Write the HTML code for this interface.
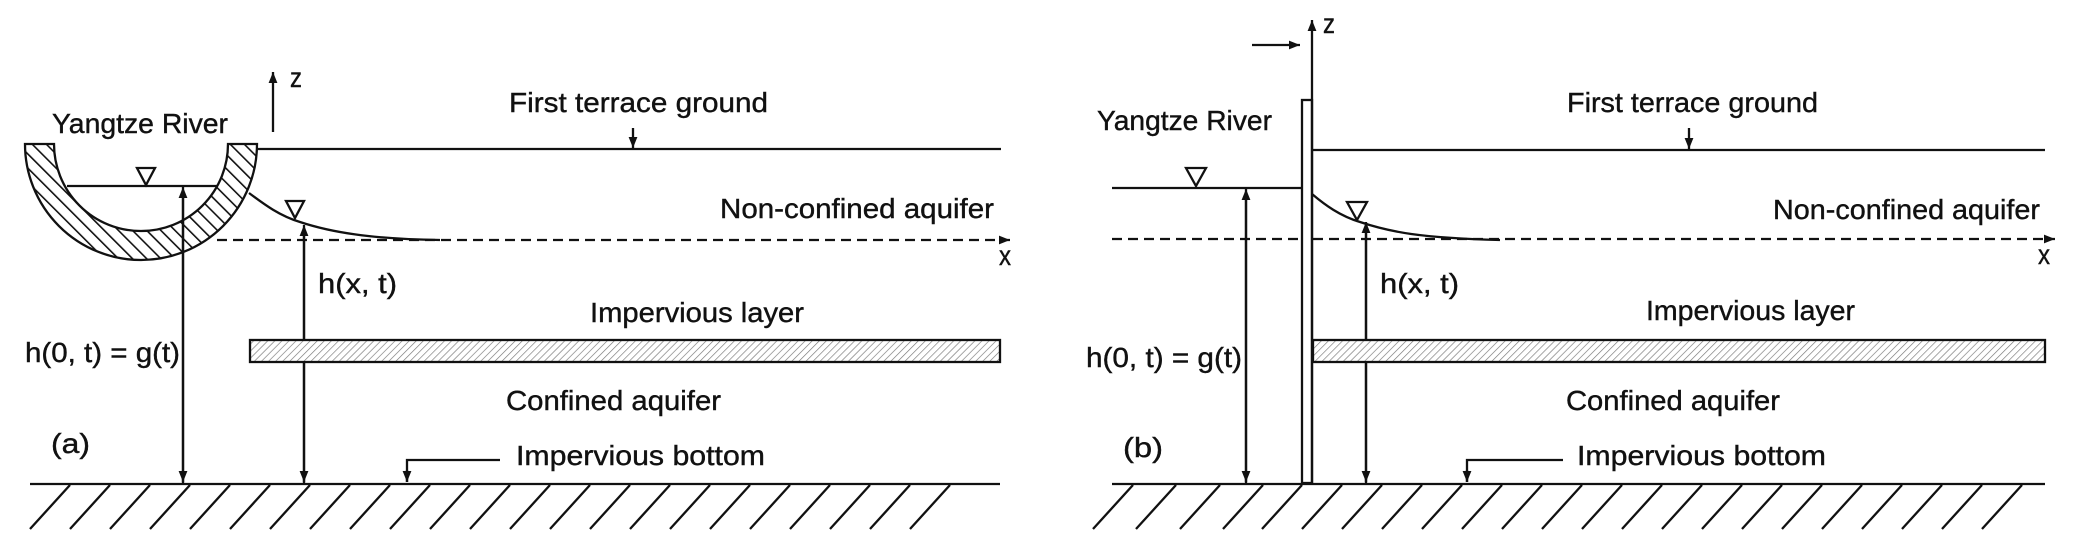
<!DOCTYPE html>
<html><head><meta charset="utf-8"><style>
html,body{margin:0;padding:0;background:#fff;}
svg{display:block;}
text{font-family:"Liberation Sans",sans-serif;font-size:28px;fill:#111;stroke:#111;stroke-width:0.4;}
</style></head><body>
<svg width="2086" height="554" viewBox="0 0 2086 554" xmlns="http://www.w3.org/2000/svg">
<defs>
<pattern id="rh" patternUnits="userSpaceOnUse" width="10" height="10" patternTransform="rotate(-45)">
<rect width="10" height="10" fill="#fff"/><line x1="0" y1="0" x2="0" y2="10" stroke="#111" stroke-width="3.2"/>
</pattern>
<pattern id="lh" patternUnits="userSpaceOnUse" width="5" height="5" patternTransform="rotate(45)">
<rect width="5" height="5" fill="#fff"/><line x1="0" y1="0" x2="0" y2="5" stroke="#777" stroke-width="1.3"/>
</pattern>
<marker id="ah" viewBox="0 0 10 10" refX="10" refY="5" markerWidth="11" markerHeight="11" markerUnits="userSpaceOnUse" orient="auto">
<path d="M0,1 L10,5 L0,9 Z" fill="#111"/></marker>
</defs>
<g stroke="#111" stroke-width="2.3" fill="none">
<!-- ===== Panel A ===== -->
<path d="M25,144 A116,116 0 0 0 257,144 L228,144 A87,87 0 0 1 54,144 Z" fill="url(#rh)" stroke="#111" stroke-width="2.3"/>
<line x1="67" y1="186" x2="218" y2="186"/>
<path d="M137,168 L155,168 L146,185 Z"/>
<line x1="257" y1="149" x2="1001" y2="149"/>
<line x1="633" y1="128" x2="633" y2="148" marker-end="url(#ah)"/>
<line x1="273" y1="132" x2="273" y2="72" marker-end="url(#ah)"/>
<path d="M249,193 C265,205 280,216 300,222 C330,232 370,239 440,240"/>
<path d="M286,201 L304,201 L295,218 Z"/>
<line x1="217" y1="240" x2="1010" y2="240" stroke-dasharray="10,6" marker-end="url(#ah)"/>
<line x1="183" y1="483" x2="183" y2="187" marker-end="url(#ah)"/>
<line x1="183" y1="190" x2="183" y2="482" marker-end="url(#ah)"/>
<line x1="304" y1="483" x2="304" y2="225" marker-end="url(#ah)"/>
<line x1="304" y1="228" x2="304" y2="482" marker-end="url(#ah)"/>
<rect x="250" y="340" width="750" height="22" fill="url(#lh)"/>
<line x1="30" y1="484" x2="1000" y2="484"/>
<path d="M500,460 L407,460 L407,482" />
<line x1="407" y1="470" x2="407" y2="482" marker-end="url(#ah)"/>
<!-- ===== Panel B ===== -->
<rect x="1302" y="100" width="10" height="383" fill="#fff"/>
<line x1="1312" y1="483" x2="1312" y2="20" marker-end="url(#ah)"/>
<line x1="1252" y1="45" x2="1300" y2="45" marker-end="url(#ah)"/>
<line x1="1312" y1="150" x2="2045" y2="150"/>
<line x1="1689" y1="128" x2="1689" y2="149" marker-end="url(#ah)"/>
<line x1="1112" y1="188" x2="1302" y2="188"/>
<path d="M1186,168 L1206,168 L1196,186 Z"/>
<path d="M1312,194 C1325,205 1340,216 1360,222 C1390,232 1420,238 1500,240"/>
<path d="M1347,202 L1367,202 L1357,220 Z"/>
<line x1="1112" y1="239" x2="1301" y2="239" stroke-dasharray="10,6"/>
<line x1="1313" y1="239" x2="2055" y2="239" stroke-dasharray="10,6" marker-end="url(#ah)"/>
<line x1="1246" y1="483" x2="1246" y2="189" marker-end="url(#ah)"/>
<line x1="1246" y1="192" x2="1246" y2="482" marker-end="url(#ah)"/>
<line x1="1366" y1="483" x2="1366" y2="222" marker-end="url(#ah)"/>
<line x1="1366" y1="225" x2="1366" y2="482" marker-end="url(#ah)"/>
<rect x="1313" y="340" width="732" height="22" fill="url(#lh)"/>
<line x1="1112" y1="484" x2="2045" y2="484"/>
<path d="M1563,460 L1467,460 L1467,482"/>
<line x1="1467" y1="470" x2="1467" y2="482" marker-end="url(#ah)"/>
</g>
<g stroke="#111" stroke-width="2.3">
<path d="M70,485 l-40,44 M110,485 l-40,44 M150,485 l-40,44 M190,485 l-40,44 M230,485 l-40,44 M270,485 l-40,44 M310,485 l-40,44 M350,485 l-40,44 M390,485 l-40,44 M430,485 l-40,44 M470,485 l-40,44 M510,485 l-40,44 M550,485 l-40,44 M590,485 l-40,44 M630,485 l-40,44 M670,485 l-40,44 M710,485 l-40,44 M750,485 l-40,44 M790,485 l-40,44 M830,485 l-40,44 M870,485 l-40,44 M910,485 l-40,44 M950,485 l-40,44"/>
<path d="M1133,485 l-40,44 M1176,485 l-40,44 M1220,485 l-40,44 M1263,485 l-40,44 M1302,485 l-40,44 M1342,485 l-40,44 M1382,485 l-40,44 M1422,485 l-40,44 M1462,485 l-40,44 M1502,485 l-40,44 M1542,485 l-40,44 M1582,485 l-40,44 M1622,485 l-40,44 M1662,485 l-40,44 M1702,485 l-40,44 M1742,485 l-40,44 M1782,485 l-40,44 M1822,485 l-40,44 M1862,485 l-40,44 M1902,485 l-40,44 M1942,485 l-40,44 M1982,485 l-40,44 M2022,485 l-40,44"/>
</g>
<!-- text A -->
<text x="290" y="87" textLength="12" lengthAdjust="spacingAndGlyphs">z</text>
<text x="52" y="133" textLength="176" lengthAdjust="spacingAndGlyphs">Yangtze River</text>
<text x="509" y="112" textLength="259" lengthAdjust="spacingAndGlyphs">First terrace ground</text>
<text x="720" y="218" textLength="274" lengthAdjust="spacingAndGlyphs">Non-confined aquifer</text>
<text x="999" y="265" textLength="12" lengthAdjust="spacingAndGlyphs">x</text>
<text x="318" y="293" textLength="79" lengthAdjust="spacingAndGlyphs">h(x, t)</text>
<text x="590" y="322" textLength="214" lengthAdjust="spacingAndGlyphs">Impervious layer</text>
<text x="25" y="362" textLength="155" lengthAdjust="spacingAndGlyphs">h(0, t) = g(t)</text>
<text x="506" y="410" textLength="215" lengthAdjust="spacingAndGlyphs">Confined aquifer</text>
<text x="51" y="453" textLength="39" lengthAdjust="spacingAndGlyphs">(a)</text>
<text x="516" y="465" textLength="249" lengthAdjust="spacingAndGlyphs">Impervious bottom</text>
<!-- text B -->
<text x="1323" y="33" textLength="12" lengthAdjust="spacingAndGlyphs">z</text>
<text x="1097" y="130" textLength="175" lengthAdjust="spacingAndGlyphs">Yangtze River</text>
<text x="1567" y="112" textLength="251" lengthAdjust="spacingAndGlyphs">First terrace ground</text>
<text x="1773" y="219" textLength="267" lengthAdjust="spacingAndGlyphs">Non-confined aquifer</text>
<text x="2038" y="264" textLength="12" lengthAdjust="spacingAndGlyphs">x</text>
<text x="1380" y="293" textLength="79" lengthAdjust="spacingAndGlyphs">h(x, t)</text>
<text x="1646" y="320" textLength="209" lengthAdjust="spacingAndGlyphs">Impervious layer</text>
<text x="1086" y="367" textLength="156" lengthAdjust="spacingAndGlyphs">h(0, t) = g(t)</text>
<text x="1566" y="410" textLength="214" lengthAdjust="spacingAndGlyphs">Confined aquifer</text>
<text x="1123" y="457" textLength="40" lengthAdjust="spacingAndGlyphs">(b)</text>
<text x="1577" y="465" textLength="249" lengthAdjust="spacingAndGlyphs">Impervious bottom</text>
</svg>
</body></html>
